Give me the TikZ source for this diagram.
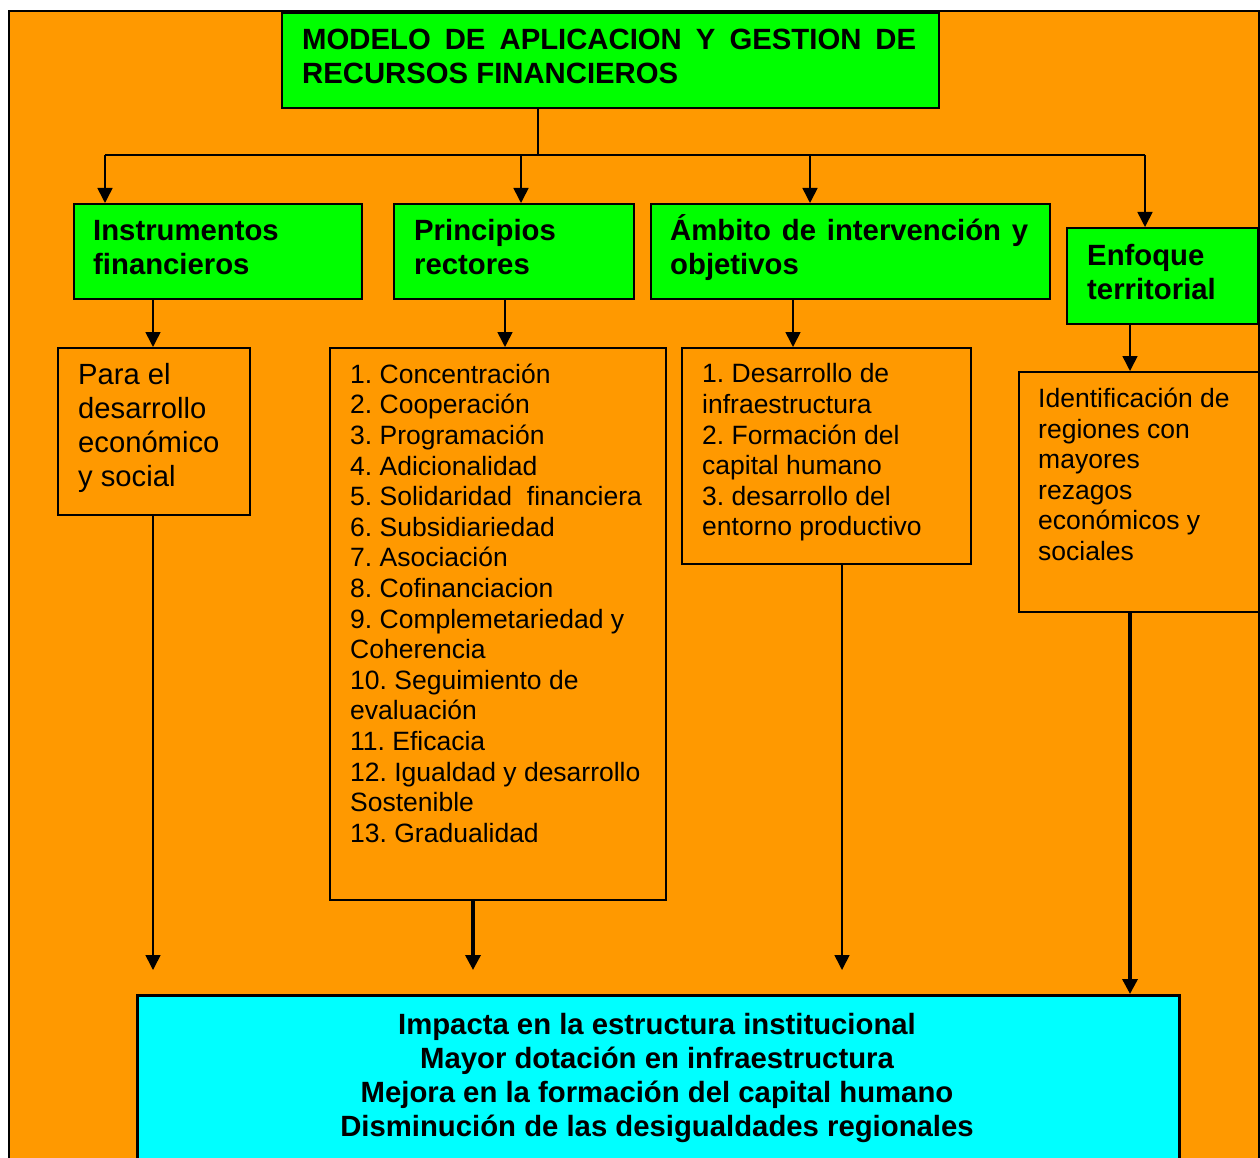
\documentclass[tikz,border=0pt]{standalone}
\usepackage{fontspec}
\setmainfont{Liberation Sans}
\usetikzlibrary{arrows.meta}
\frenchspacing
\definecolor{orng}{RGB}{255,153,0}
\definecolor{grn}{RGB}{0,255,0}
\definecolor{cyn}{RGB}{0,255,255}
\tikzset{
  box/.style={draw=black, line width=1.6pt, anchor=north west, inner sep=0pt},
  gbox/.style={box, fill=grn},
  obox/.style={box, fill=orng},
  txt/.style={anchor=north west, inner sep=0pt, align=left},
  hdr/.style={txt, font=\fontsize{29.3}{34}\selectfont\bfseries\frenchspacing},
  big/.style={txt, font=\fontsize{29.2}{34}\selectfont\frenchspacing},
  lst/.style={txt, font=\fontsize{26.5}{30.6}\selectfont\frenchspacing},
  conn/.style={line width=1.6pt},
  arr/.style={conn, -{Triangle[width=15pt,length=15pt]}},
  arrthick/.style={line width=3.4pt, -{Triangle[width=15pt,length=15pt]}},
}
\begin{document}
\begin{tikzpicture}[x=1pt,y=-1pt]
\useasboundingbox (0,0) rectangle (1260,1158);
\clip (0,0) rectangle (1260,1158);
% background frame
\fill[white] (0,0) rectangle (1260,1158);
\node[obox, minimum width=1250pt, minimum height=1170pt] (frame) at (8,10) {};
% top
\node[gbox, minimum width=657pt, minimum height=95pt] (title) at (281,12) {};
\node[hdr] (titlet) at (302,25.5) {\strut\makebox[614pt][s]{MODELO DE APLICACION Y GESTION DE}\\RECURSOS FINANCIEROS};
% second row
\node[gbox, minimum width=288pt, minimum height=95pt] (instr) at (73,203) {};
\node[hdr] (instrt) at (93,216.9) {\strut Instrumentos\\financieros};
\node[gbox, minimum width=240pt, minimum height=95pt] (princ) at (393,203) {};
\node[hdr] (princt) at (414,216.9) {\strut Principios\\rectores};
\node[gbox, minimum width=399pt, minimum height=95pt] (ambito) at (650,203) {};
\node[hdr] (ambitot) at (670,216.9) {\strut\smash{\makebox[358pt][s]{Ámbito de intervención y}}\\objetivos};
\node[gbox, minimum width=191pt, minimum height=96pt] (enfoque) at (1066,227) {};
\node[hdr] (enfoquet) at (1087,241.2) {\strut Enfoque\\territorial};
% third row
\node[obox, minimum width=192pt, minimum height=167pt] (para) at (57,347) {};
\node[big] (parat) at (78,360.5) {\strut Para el\\desarrollo\\económico\\y social};
\node[obox, minimum width=336pt, minimum height=552pt] (list) at (329,347) {};
\node[lst] (listt) at (350,361.6) {\strut 1. Concentración\\2. Cooperación\\3. Programación\\4. Adicionalidad\\5. Solidaridad\ \ financiera\\6. Subsidiariedad\\7. Asociación\\8. Cofinanciacion\\9. Complemetariedad y\\Coherencia\\10. Seguimiento de\\evaluación\\11. Eficacia\\12. Igualdad y desarrollo\\Sostenible\\13. Gradualidad};
\node[obox, minimum width=289pt, minimum height=216pt] (amblist) at (681,347) {};
\node[lst] (amblistt) at (702,361.3) {\strut 1. Desarrollo de\\infraestructura\\2. Formación del\\capital humano\\3. desarrollo del\\entorno productivo};
\node[obox, minimum width=240pt, minimum height=240pt] (ident) at (1018,371) {};
\node[lst] (identt) at (1038,385.9) {\strut Identificación de\\regiones con\\mayores\\rezagos\\económicos y\\sociales};
% bottom
\node[box, line width=3.4pt, fill=cyn, minimum width=1042pt, minimum height=200pt] (bottom) at (136,994) {};
\node[hdr, anchor=north, align=center] (bottomt) at (657,1010.5) {\strut Impacta en la estructura institucional\\Mayor dotación en infraestructura\\Mejora en la formación del capital humano\\Disminución de las desigualdades regionales};
% connectors top
\coordinate (hub) at (538,155);
\coordinate (b1) at (105,155);
\coordinate (b2) at (521,155);
\coordinate (b3) at (810,155);
\coordinate (b4) at (1145,155);
\draw[conn] (title.south -| hub) -- (hub);
\draw[conn] (b1) -- (b4);
\draw[arr] (b1) -- (b1 |- instr.north);
\draw[arr] (b2) -- (b2 |- princ.north);
\draw[arr] (b3) -- (b3 |- ambito.north);
\draw[arr] (b4) -- (b4 |- enfoque.north);
% second level arrows
\coordinate (x1) at (153,0);
\coordinate (x2) at (505,0);
\coordinate (x3) at (793,0);
\coordinate (x4) at (1130,0);
\draw[arr] (instr.south -| x1) -- (para.north -| x1);
\draw[arr] (princ.south -| x2) -- (list.north -| x2);
\draw[arr] (ambito.south -| x3) -- (amblist.north -| x3);
\draw[arr] (enfoque.south -| x4) -- (ident.north -| x4);
% bottom arrows
\coordinate (e1) at (153,970);
\coordinate (e2) at (473,970);
\coordinate (e3) at (842,970);
\draw[arr] (para.south -| e1) -- (e1);
\draw[arrthick] (list.south -| e2) -- (e2);
\draw[arr] (amblist.south -| e3) -- (e3);
\draw[arrthick] (ident.south -| x4) -- (bottom.north -| x4);
\end{tikzpicture}
\end{document}
